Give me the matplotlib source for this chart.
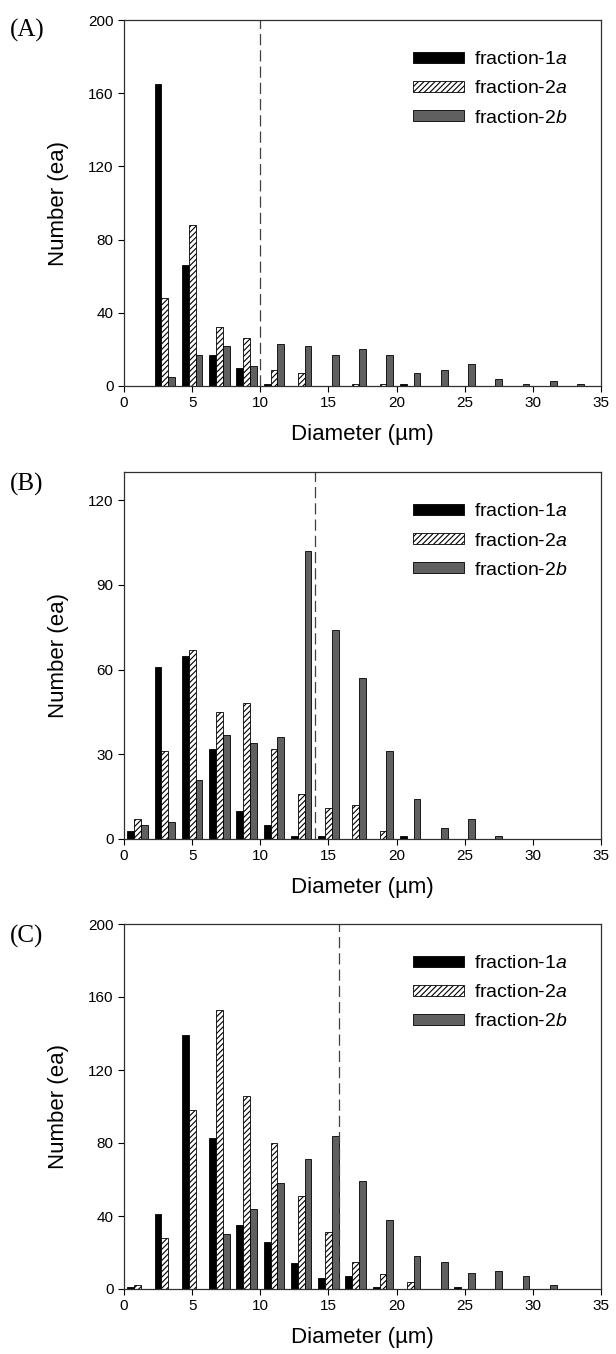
import numpy as np
import matplotlib
matplotlib.use("Agg")
import matplotlib.pyplot as plt

plt.rcParams["font.family"] = ["Liberation Sans", "DejaVu Sans"]
plt.rcParams["mathtext.fontset"] = "custom"
plt.rcParams["mathtext.rm"] = "Liberation Sans"
plt.rcParams["mathtext.it"] = "Liberation Sans:italic"
plt.rcParams["hatch.linewidth"] = 0.8

# bin centres (um)
bins = [1, 3, 5, 7, 9, 11, 13, 15, 17, 19, 21, 23, 25, 27, 29, 31, 33]

# panel A
a_f1a = [0, 165, 66, 17, 10, 1, 0, 0, 0, 0, 1, 0, 0, 0, 0, 0, 0]
a_f2a = [0, 48, 88, 32, 26, 9, 7, 0, 1, 1, 0, 0, 0, 0, 0, 0, 0]
a_f2b = [0, 5, 17, 22, 11, 23, 22, 17, 20, 17, 7, 9, 12, 4, 1, 3, 1]

# panel B
b_f1a = [3, 61, 65, 32, 10, 5, 1, 1, 0, 0, 1, 0, 0, 0, 0, 0, 0]
b_f2a = [7, 31, 67, 45, 48, 32, 16, 11, 12, 3, 0, 0, 0, 0, 0, 0, 0]
b_f2b = [5, 6, 21, 37, 34, 36, 102, 74, 57, 31, 14, 4, 7, 1, 0, 0, 0]

# panel C
c_f1a = [1, 41, 139, 83, 35, 26, 14, 6, 7, 1, 0, 0, 1, 0, 0, 0, 0]
c_f2a = [2, 28, 98, 153, 106, 80, 51, 31, 15, 8, 4, 0, 0, 0, 0, 0, 0]
c_f2b = [0, 0, 0, 30, 44, 58, 71, 84, 59, 38, 18, 15, 9, 10, 7, 2, 0]

panels = [
    ("(A)", a_f1a, a_f2a, a_f2b, 200, [0, 40, 80, 120, 160, 200], 10.0),
    ("(B)", b_f1a, b_f2a, b_f2b, 130, [0, 30, 60, 90, 120], 14.0),
    ("(C)", c_f1a, c_f2a, c_f2b, 200, [0, 40, 80, 120, 160, 200], 15.8),
]

W, H = 616, 1354
fig = plt.figure(figsize=(W / 100, H / 100), dpi=100)

# axes boxes in pixels: (top, bottom)
boxes = [(20, 386), (472, 839), (924, 1289)]
label_y = [30, 484, 936]
left, right = 124, 601

x = np.array(bins, dtype=float)
bw = 0.5

for (tag, f1a, f2a, f2b, ymax, yticks, vline), (top, bot), ly in zip(panels, boxes, label_y):
    ax = fig.add_axes([left / W, 1 - bot / H, (right - left) / W, (bot - top) / H])
    ax.bar(x - bw, f1a, width=bw, color="black", edgecolor="black", linewidth=0.6, label="fraction-1$\\mathit{a}$")
    ax.bar(x, f2a, width=bw, color="white", edgecolor="black", hatch="//////", linewidth=0.6, label="fraction-2$\\mathit{a}$")
    ax.bar(x + bw, f2b, width=bw, color="#606060", edgecolor="black", linewidth=0.6, label="fraction-2$\\mathit{b}$")
    ax.axvline(vline, color="#404040", linestyle=(0, (9, 4)), linewidth=0.9)

    ax.set_xlim(0, 35)
    ax.set_ylim(0, ymax)
    ax.set_xticks([0, 5, 10, 15, 20, 25, 30, 35])
    ax.set_yticks(yticks)
    ax.tick_params(labelsize=11, direction="out", length=4, width=0.8)
    for s in ax.spines.values():
        s.set_linewidth(0.9)
        s.set_color("#303030")
    ax.set_xlabel("Diameter (µm)", fontsize=16, labelpad=10)
    ax.set_ylabel("Number (ea)", fontsize=16, labelpad=14)

    ax.legend(loc="upper left", bbox_to_anchor=(0.57, 0.962), frameon=False, fontsize=14,
              handlelength=2.6, handleheight=0.5, handletextpad=0.5, labelspacing=0.62,
              borderpad=0.4)

    fig.text(10 / W, 1 - ly / H, tag, family=["Liberation Serif", "DejaVu Serif"], fontsize=18,
             ha="left", va="center")

fig.savefig("out.png", dpi=100)
